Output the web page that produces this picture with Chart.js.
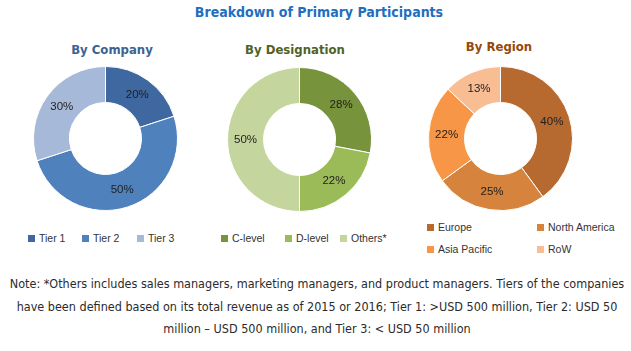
<!DOCTYPE html>
<html>
<head>
<meta charset="utf-8">
<script src="https://cdn.jsdelivr.net/npm/chart.js@4"></script>
<style>
    body { margin: 0; background: #fff; width: 631px; height: 351px; position: relative; overflow: hidden; font-family: "Liberation Sans", Arial, sans-serif; }
    .abs { position: absolute; }
    .title { left: 0; width: 638px; top: 4px; text-align: center; font: bold 14px "Liberation Sans Narrow", "DejaVu Sans Condensed", sans-serif; color: #1f6fbf; }
    .sub { top: 42px; text-align: center; font: bold 13px "Liberation Sans Narrow", "DejaVu Sans Condensed", sans-serif; width: 160px; }
    .chartBox { width: 145px; height: 145px; }
    .legend { font-size: 10.5px; color: #333; white-space: nowrap; }
    .legend span.sw { display: inline-block; width: 7px; height: 7px; margin-right: 4px; }
    .note { left: 0; width: 634px; top: 273px; text-align: center; font: 12.5px/22.5px "Liberation Sans Narrow", "DejaVu Sans Condensed", sans-serif; color: #2b2b2b; }
</style>
</head>
<body>
<div class="abs title">Breakdown of Primary Participants</div>
<div class="abs sub" style="left:32px;color:#3c6291">By Company</div>
<div class="abs sub" style="left:215px;color:#4f6228">By Designation</div>
<div class="abs sub" style="left:419px;top:39px;color:#984807">By Region</div>

<div class="abs chartBox" style="left:33px;top:66px"><canvas id="companyChart" width="145" height="145"></canvas></div>
<div class="abs chartBox" style="left:227px;top:67px"><canvas id="designationChart" width="145" height="145"></canvas></div>
<div class="abs chartBox" style="left:428px;top:66px"><canvas id="regionChart" width="145" height="145"></canvas></div>

<div id="companyLegend"></div>
<div id="designationLegend"></div>
<div id="regionLegend"></div>

<div class="abs note">Note: *Others includes sales managers, marketing managers, and product managers. Tiers of the companies<br>have been defined based on its total revenue as of 2015 or 2016; Tier 1: &gt;USD 500 million, Tier 2: USD 50<br>million &ndash; USD 500 million, and Tier 3: &lt; USD 50 million</div>

<script>
const companyLabels = ["Tier 1", "Tier 2", "Tier 3"];
const companyValues = [20, 50, 30];
const companyColors = ["#3f67a0", "#4f81bd", "#a7b9d8"];

const designationLabels = ["C-level", "D-level", "Others*"];
const designationValues = [28, 22, 50];
const designationColors = ["#77933c", "#9bbb59", "#c4d69e"];

const regionLabels = ["Europe", "North America", "Asia Pacific", "RoW"];
const regionValues = [40, 25, 22, 13];
const regionColors = ["#b66a30", "#d5833d", "#f79646", "#f9bd94"];

const sliceLabels = {
    id: "sliceLabels",
    afterDatasetsDraw(chart) {
        const ctx = chart.ctx;
        const meta = chart.getDatasetMeta(0);
        const values = chart.data.datasets[0].data;
        ctx.save();
        ctx.font = "11.5px 'Liberation Sans', Arial, sans-serif";
        ctx.fillStyle = "#1e1e1e";
        ctx.textAlign = "center";
        ctx.textBaseline = "middle";
        meta.data.forEach((arc, i) => {
            const p = arc.tooltipPosition();
            ctx.fillText(values[i] + "%", p.x, p.y);
        });
        ctx.restore();
    }
};

function drawDonut(id, labels, values, colors) {
    new Chart(document.getElementById(id), {
        type: "doughnut",
        data: {
            labels,
            datasets: [{ data: values, backgroundColor: colors, borderColor: "#ffffff", borderWidth: 1 }]
        },
        options: {
            responsive: false,
            animation: false,
            cutout: "50%",
            layout: { padding: 0 },
            plugins: { legend: { display: false }, tooltip: { enabled: false } }
        },
        plugins: [sliceLabels]
    });
}

function drawLegend(id, labels, colors, spots) {
    const el = document.getElementById(id);
    el.innerHTML = labels.map((label, i) => `
        <div class="abs legend" style="left:${spots[i][0]}px;top:${spots[i][1]}px">
            <span class="sw" style="background:${colors[i]}"></span>${label}
        </div>`).join("");
}

drawDonut("companyChart", companyLabels, companyValues, companyColors);
drawDonut("designationChart", designationLabels, designationValues, designationColors);
drawDonut("regionChart", regionLabels, regionValues, regionColors);

drawLegend("companyLegend", companyLabels, companyColors, [[28, 232], [82, 232], [137, 232]]);
drawLegend("designationLegend", designationLabels, designationColors, [[221, 232], [285, 232], [340, 232]]);
drawLegend("regionLegend", regionLabels, regionColors, [[427, 221], [537, 221], [427, 243], [537, 243]]);
</script>
</body>
</html>
